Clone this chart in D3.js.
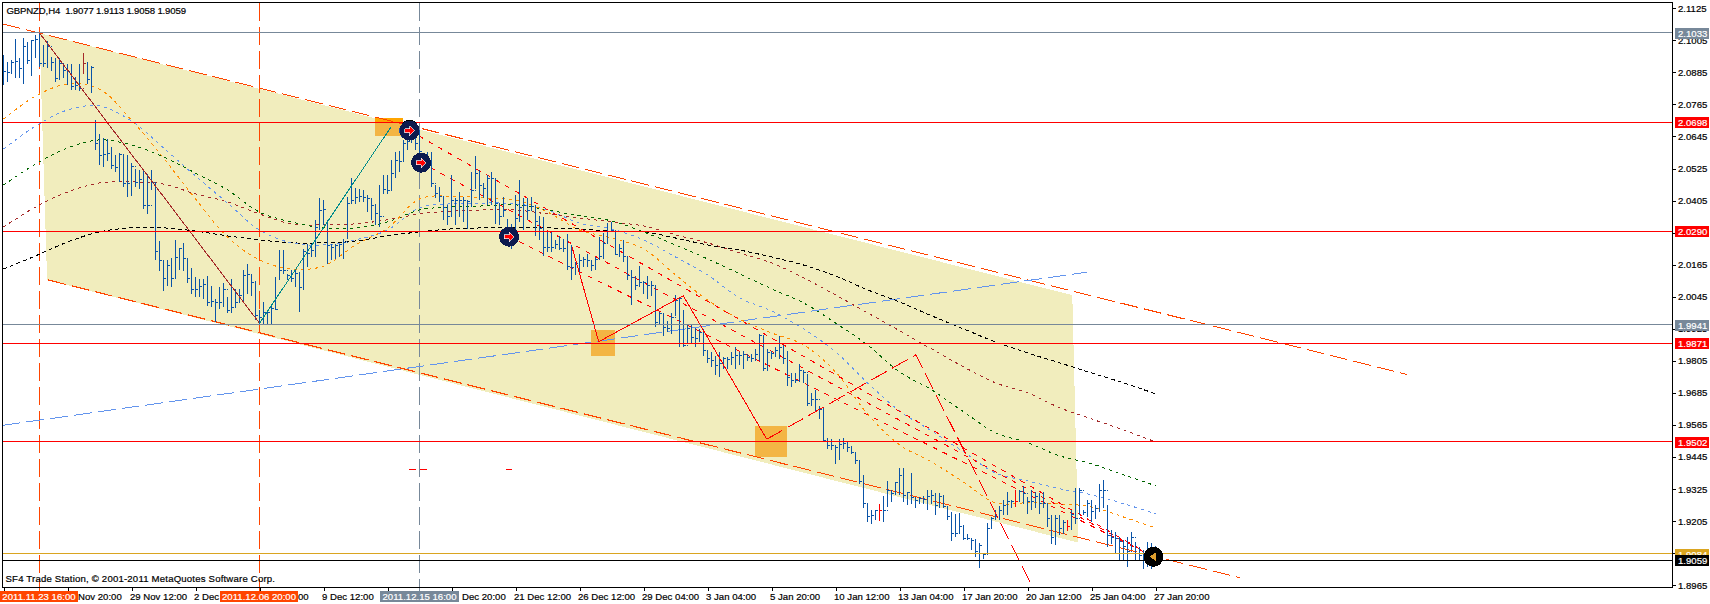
<!DOCTYPE html>
<html><head><meta charset="utf-8">
<style>html,body{margin:0;padding:0;background:#fff;overflow:hidden}svg{display:block}
text{font-family:"Liberation Sans",Arial,sans-serif;font-size:9.6px}</style>
<script src="https://cdn.jsdelivr.net/npm/d3@7"></script></head><body><svg id="c" width="1710" height="604"></svg>
<script>
const symbolTitle = "GBPNZD,H4  1.9077 1.9113 1.9058 1.9059";
const copyright = "SF4 Trade Station, \u00A9 2001-2011 MetaQuotes Software Corp.";
const priceTicks = [2.1125,2.1005,2.0885,2.0765,2.0645,2.0525,2.0405,2.0285,2.0165,2.0045,1.9925,1.9805,1.9685,1.9565,1.9445,1.9325,1.9205,1.9085,1.8965];
const hiddenPriceTicks = [2.0285,1.9085];
const timeTickLabels = ["","Nov 20:00","29 Nov 12:00","2 Dec","00","9 Dec 12:00","","Dec 20:00","21 Dec 12:00","26 Dec 12:00","29 Dec 04:00","3 Jan 04:00","5 Jan 20:00","10 Jan 12:00","13 Jan 04:00","17 Jan 20:00","20 Jan 12:00","25 Jan 04:00","27 Jan 20:00"];
const highs = [
2.0949,2.0924,2.0933,2.1009,2.0937,2.1015,2.0997,2.1005,2.1024,2.1031,2.0987,2.1002,2.0943,2.0937,2.0937,2.0918,2.0915,2.0918,2.0868,2.0918,2.0958,2.0924,2.0908,
2.0705,2.0655,2.0640,2.0637,2.0606,2.0574,2.0583,2.0578,2.0574,2.0545,2.0524,2.0518,2.0518,2.0505,2.0521,2.0474,2.0253,2.0183,2.0183,2.0190,2.0258,2.0228,2.0248,
2.0190,2.0153,2.0120,2.0112,2.0112,2.0124,2.0087,2.0037,2.0081,2.0096,2.0043,2.0112,2.0074,2.0074,2.0146,2.0166,2.0130,2.0105,1.9995,
2.0025,1.9994,2.0019,2.0119,2.0222,2.0222,2.0131,2.0144,2.0144,2.0138,2.0225,2.0244,2.0244,2.0334,2.0413,2.0409,2.0334,2.0241,2.0244,2.0244,2.0263,2.0419,2.0488,
2.0454,2.0450,2.0446,2.0425,2.0416,2.0391,2.0463,2.0500,2.0500,2.0556,2.0588,2.0591,2.0631,2.0681,2.0700,2.0688,2.0669,2.0581,2.0588,2.0588,2.0463,2.0456,2.0419,
2.0388,2.0500,2.0413,2.0438,2.0419,2.0406,2.0513,2.0571,2.0519,2.0469,2.0500,2.0513,2.0488,2.0394,2.0419,2.0338,2.0319,2.0425,2.0481,2.0416,2.0413,
2.0419,2.0388,2.0347,2.0344,2.0288,2.0288,2.0259,2.0272,2.0263,2.0279,2.0238,2.0175,2.0204,2.0194,2.0204,2.0182,2.0194,2.0269,2.0282,2.0322,2.0325,2.0288,2.0244,
2.0259,2.0194,2.0147,2.0122,2.0159,2.0104,2.0122,2.0104,2.0088,1.9988,1.9981,1.9956,1.9985,2.0050,2.0044,1.9994,1.9938,1.9938,1.9928,1.9923,1.9923,1.9844,1.9838,
1.9825,1.9838,1.9819,1.9819,1.9838,1.9856,1.9838,1.9842,1.9829,1.9831,1.9850,1.9906,1.9900,1.9850,1.9844,1.9856,1.9900,1.9863,1.9844,
1.9759,1.9759,1.9794,1.9771,1.9756,1.9686,1.9696,1.9636,1.9634,1.9515,1.9511,1.9490,1.9511,1.9515,1.9503,1.9486,1.9465,1.9436,1.9380,1.9271,1.9246,1.9249,1.9269,
1.9299,1.9357,1.9321,1.9353,1.9406,1.9403,1.9315,1.9386,1.9296,1.9296,1.9299,1.9321,1.9321,1.9311,1.9311,1.9303,1.9259,1.9240,1.9234,1.9236,1.9190,1.9159,1.9144,1.9140,1.9124,
1.9084,1.9199,1.9221,1.9249,1.9261,1.9284,1.9315,1.9286,1.9321,1.9321,1.9336,1.9296,1.9321,1.9315,1.9309,1.9315,1.9271,1.9228,1.9228,1.9228,1.9209,1.9209,1.9246,
1.9328,1.9330,1.9246,1.9284,1.9284,1.9265,1.9346,1.9361,1.9265,1.9171,1.9165,1.9146,1.9134,1.9146,1.9165,1.9128,1.9109,1.9096,1.9128,1.9124,1.9113];
const lows = [
2.0837,2.0849,2.0878,2.0864,2.0862,2.0840,2.0918,2.0870,2.0940,2.0905,2.0905,2.0903,2.0890,2.0849,2.0856,2.0862,2.0837,2.0818,2.0818,2.0814,2.0880,2.0843,2.0806,
2.0593,2.0540,2.0530,2.0555,2.0524,2.0512,2.0474,2.0455,2.0418,2.0424,2.0455,2.0449,2.0374,2.0355,2.0443,2.0184,2.0143,2.0068,2.0087,2.0083,2.0112,2.0145,2.0143,
2.0097,2.0055,2.0043,2.0043,2.0037,2.0012,2.0005,1.9949,1.9999,2.0005,1.9983,1.9983,2.0005,2.0024,2.0030,2.0055,2.0049,1.9958,1.9943,
1.9944,1.9944,1.9941,1.9994,2.0113,2.0131,2.0106,2.0100,2.0081,1.9988,2.0069,2.0156,2.0194,2.0194,2.0294,2.0313,2.0169,2.0184,2.0188,2.0194,2.0188,2.0263,2.0394,
2.0394,2.0400,2.0400,2.0363,2.0331,2.0313,2.0306,2.0431,2.0431,2.0444,2.0488,2.0513,2.0550,2.0594,2.0619,2.0594,2.0563,2.0519,2.0525,2.0456,2.0413,2.0400,2.0331,
2.0313,2.0344,2.0313,2.0344,2.0325,2.0300,2.0381,2.0450,2.0406,2.0413,2.0388,2.0388,2.0319,2.0313,2.0344,2.0275,2.0225,2.0275,2.0325,2.0294,2.0331,
2.0369,2.0272,2.0257,2.0197,2.0213,2.0213,2.0225,2.0219,2.0213,2.0147,2.0107,2.0125,2.0132,2.0156,2.0156,2.0142,2.0144,2.0182,2.0188,2.0244,2.0288,2.0200,2.0194,
2.0175,2.0107,2.0013,2.0069,2.0081,2.0056,2.0038,2.0047,1.9931,1.9944,1.9900,1.9913,1.9904,1.9972,1.9856,1.9856,1.9869,1.9872,1.9856,1.9875,1.9825,1.9798,1.9781,
1.9754,1.9744,1.9775,1.9775,1.9788,1.9775,1.9788,1.9775,1.9806,1.9800,1.9804,1.9806,1.9769,1.9769,1.9813,1.9819,1.9813,1.9794,1.9713,
1.9706,1.9722,1.9728,1.9724,1.9636,1.9636,1.9615,1.9586,1.9503,1.9474,1.9472,1.9419,1.9434,1.9474,1.9465,1.9457,1.9421,1.9346,1.9253,1.9203,1.9196,1.9209,1.9206,
1.9203,1.9259,1.9278,1.9303,1.9303,1.9278,1.9265,1.9271,1.9253,1.9271,1.9271,1.9249,1.9269,1.9228,1.9253,1.9253,1.9209,1.9131,1.9146,1.9156,1.9134,1.9134,1.9096,1.9071,1.9031,
1.9065,1.9084,1.9178,1.9209,1.9209,1.9228,1.9228,1.9253,1.9259,1.9278,1.9271,1.9231,1.9246,1.9253,1.9234,1.9253,1.9184,1.9121,1.9115,1.9153,1.9159,1.9169,1.9171,
1.9196,1.9228,1.9228,1.9221,1.9203,1.9215,1.9240,1.9253,1.9109,1.9121,1.9084,1.9059,1.9059,1.9034,1.9096,1.9059,1.9059,1.9028,1.9034,1.9028,1.9058];
const closes = [
2.0887,2.0883,2.0922,2.0924,2.0899,2.0980,2.0928,2.1003,2.1008,2.0918,2.0918,2.0983,2.0922,2.0862,2.0918,2.0893,2.0887,2.0831,2.0837,2.0824,2.0918,2.0858,2.0903,
2.0618,2.0574,2.0578,2.0583,2.0537,2.0530,2.0578,2.0468,2.0468,2.0533,2.0474,2.0483,2.0387,2.0387,2.0471,2.0215,2.0180,2.0112,2.0162,2.0115,2.0193,2.0224,2.0187,
2.0115,2.0074,2.0074,2.0083,2.0090,2.0024,2.0028,2.0024,2.0024,2.0074,1.9995,2.0005,2.0024,2.0049,2.0124,2.0130,2.0099,1.9974,1.9968,
1.9988,1.9988,2.0000,1.9997,2.0144,2.0144,2.0125,2.0113,2.0131,2.0081,2.0213,2.0206,2.0219,2.0306,2.0369,2.0371,2.0238,2.0231,2.0238,2.0239,2.0250,2.0394,2.0406,
2.0416,2.0419,2.0416,2.0413,2.0388,2.0356,2.0344,2.0446,2.0444,2.0506,2.0556,2.0550,2.0619,2.0625,2.0656,2.0619,2.0588,2.0531,2.0556,2.0469,2.0431,2.0422,2.0381,
2.0346,2.0406,2.0404,2.0406,2.0406,2.0400,2.0444,2.0506,2.0463,2.0450,2.0488,2.0488,2.0394,2.0344,2.0369,2.0294,2.0269,2.0338,2.0381,2.0388,2.0369,
2.0382,2.0325,2.0300,2.0231,2.0231,2.0231,2.0241,2.0225,2.0225,2.0159,2.0156,2.0169,2.0181,2.0184,2.0179,2.0163,2.0184,2.0194,2.0244,2.0288,2.0294,2.0204,2.0225,
2.0194,2.0125,2.0119,2.0088,2.0100,2.0100,2.0088,2.0088,1.9950,1.9981,1.9931,1.9925,1.9969,2.0031,2.0038,1.9863,1.9925,1.9894,1.9888,1.9913,1.9844,1.9813,1.9806,
1.9788,1.9794,1.9813,1.9809,1.9819,1.9825,1.9825,1.9829,1.9816,1.9813,1.9829,1.9900,1.9775,1.9838,1.9831,1.9844,1.9856,1.9813,1.9744,
1.9731,1.9731,1.9771,1.9761,1.9646,1.9661,1.9661,1.9624,1.9509,1.9490,1.9490,1.9481,1.9494,1.9497,1.9481,1.9462,1.9434,1.9353,1.9271,1.9221,1.9228,1.9246,1.9244,
1.9244,1.9319,1.9309,1.9349,1.9378,1.9303,1.9311,1.9294,1.9284,1.9290,1.9286,1.9296,1.9303,1.9265,1.9296,1.9261,1.9224,1.9159,1.9161,1.9184,1.9140,1.9140,1.9134,1.9090,1.9115,
1.9081,1.9178,1.9215,1.9224,1.9244,1.9265,1.9278,1.9278,1.9280,1.9315,1.9309,1.9278,1.9278,1.9299,1.9271,1.9271,1.9215,1.9144,1.9215,1.9178,1.9199,1.9184,1.9231,
1.9215,1.9321,1.9236,1.9271,1.9240,1.9253,1.9321,1.9321,1.9153,1.9146,1.9140,1.9128,1.9109,1.9090,1.9146,1.9084,1.9078,1.9078,1.9053,1.9084,1.9059];
const opens = [
2.0900,2.0887,2.0883,2.0922,2.0924,2.0899,2.0980,2.0928,2.1003,2.1008,2.0918,2.0918,2.0983,2.0922,2.0862,2.0918,2.0893,2.0887,2.0831,2.0837,2.0824,2.0918,2.0858,
2.0690,2.0618,2.0574,2.0578,2.0583,2.0537,2.0530,2.0578,2.0468,2.0468,2.0533,2.0474,2.0483,2.0387,2.0387,2.0471,2.0215,2.0180,2.0112,2.0162,2.0115,2.0193,2.0224,
2.0187,2.0115,2.0074,2.0074,2.0083,2.0090,2.0024,2.0028,2.0024,2.0024,2.0074,1.9995,2.0005,2.0024,2.0049,2.0124,2.0130,2.0099,1.9974,
1.9968,1.9988,1.9988,2.0000,2.0110,2.0144,2.0144,2.0125,2.0113,2.0131,2.0081,2.0213,2.0206,2.0219,2.0306,2.0369,2.0325,2.0238,2.0231,2.0238,2.0239,2.0250,2.0394,
2.0406,2.0416,2.0419,2.0416,2.0413,2.0388,2.0356,2.0344,2.0446,2.0444,2.0506,2.0556,2.0550,2.0619,2.0625,2.0656,2.0619,2.0565,2.0531,2.0556,2.0469,2.0431,2.0422,
2.0381,2.0346,2.0406,2.0404,2.0406,2.0406,2.0400,2.0444,2.0506,2.0463,2.0450,2.0488,2.0488,2.0394,2.0344,2.0312,2.0294,2.0269,2.0338,2.0381,2.0388,
2.0369,2.0382,2.0325,2.0300,2.0231,2.0231,2.0231,2.0241,2.0225,2.0225,2.0159,2.0156,2.0169,2.0181,2.0184,2.0179,2.0163,2.0184,2.0194,2.0244,2.0288,2.0294,2.0204,
2.0225,2.0194,2.0125,2.0119,2.0088,2.0100,2.0100,2.0088,2.0088,1.9950,1.9981,1.9931,1.9925,1.9969,2.0031,1.9990,1.9863,1.9925,1.9894,1.9888,1.9913,1.9844,1.9813,
1.9806,1.9788,1.9794,1.9813,1.9809,1.9819,1.9825,1.9825,1.9829,1.9816,1.9813,1.9829,1.9900,1.9775,1.9838,1.9831,1.9844,1.9856,1.9813,
1.9744,1.9731,1.9731,1.9771,1.9761,1.9646,1.9661,1.9661,1.9624,1.9509,1.9490,1.9490,1.9481,1.9494,1.9497,1.9481,1.9462,1.9434,1.9353,1.9271,1.9221,1.9228,1.9246,
1.9244,1.9244,1.9319,1.9309,1.9349,1.9378,1.9303,1.9311,1.9294,1.9284,1.9290,1.9286,1.9296,1.9303,1.9265,1.9296,1.9261,1.9224,1.9159,1.9161,1.9184,1.9140,1.9140,1.9134,1.9090,
1.9070,1.9081,1.9178,1.9215,1.9224,1.9244,1.9265,1.9278,1.9278,1.9280,1.9315,1.9309,1.9278,1.9278,1.9299,1.9271,1.9271,1.9215,1.9144,1.9215,1.9178,1.9199,1.9184,
1.9231,1.9215,1.9321,1.9236,1.9271,1.9240,1.9253,1.9321,1.9321,1.9153,1.9146,1.9140,1.9128,1.9109,1.9090,1.9146,1.9084,1.9078,1.9078,1.9053,1.9077];
const redBars = [219,253,266], brownBars = [20];
// moving averages, sampled every 8 bars
const maStep = 8;
const maOrange = [2.0710,2.0796,2.0841,2.0822,2.0706,2.0564,2.0411,2.0269,2.0183,2.0149,2.0160,2.0239,2.0302,2.0411,2.0422,2.0415,2.0407,2.0362,2.0295,2.0265,2.0224,2.0127,2.0033,1.9962,1.9910,1.9865,1.9764,1.9607,1.9491,1.9427,1.9352,1.9274,1.9274,1.9270,1.9259,1.9221,1.9180];
const maBlue = [2.0598,2.0684,2.0744,2.0759,2.0703,2.0602,2.0497,2.0396,2.0295,2.0247,2.0239,2.0258,2.0295,2.0378,2.0393,2.0396,2.0393,2.0370,2.0321,2.0299,2.0258,2.0194,2.0127,2.0041,1.9992,1.9925,1.9839,1.9723,1.9618,1.9543,1.9465,1.9386,1.9356,1.9327,1.9304,1.9271,1.9233];
const maGreen = [2.0463,2.0542,2.0602,2.0632,2.0613,2.0568,2.0508,2.0445,2.0362,2.0325,2.0303,2.0303,2.0325,2.0370,2.0381,2.0385,2.0389,2.0370,2.0348,2.0329,2.0288,2.0239,2.0187,2.0131,2.0075,2.0022,1.9947,1.9865,1.9764,1.9697,1.9615,1.9536,1.9499,1.9450,1.9420,1.9379,1.9338];
const maBrown = [2.0306,2.0381,2.0437,2.0471,2.0475,2.0467,2.0430,2.0400,2.0355,2.0318,2.0314,2.0318,2.0333,2.0355,2.0366,2.0370,2.0370,2.0355,2.0340,2.0325,2.0310,2.0277,2.0247,2.0209,2.0172,2.0116,2.0052,1.9985,1.9918,1.9850,1.9783,1.9723,1.9686,1.9630,1.9588,1.9547,1.9502];
const maBlack = [2.0149,2.0198,2.0250,2.0288,2.0303,2.0303,2.0291,2.0273,2.0258,2.0247,2.0247,2.0254,2.0273,2.0288,2.0299,2.0303,2.0306,2.0303,2.0299,2.0291,2.0288,2.0265,2.0239,2.0220,2.0194,2.0164,2.0123,2.0071,2.0026,1.9974,1.9925,1.9876,1.9835,1.9798,1.9760,1.9723,1.9682];
// objects: [bar, price]
const channelFill = [[9,2.1032],[267.2,2.0051],[268.7,1.9125],[10.9,2.0108]];
const channelUpper = [[-0.2,2.1066],[350.9,1.9754]];
const channelLower = [[11.2,2.0108],[309.2,1.8993]];
const blueTrend = [[-0.2,1.9564],[270.8,2.0137]];
const brownLeg = [[9,2.1032],[64,1.9946]];
const tealLeg = [[64,1.9946],[96.8,2.0679]];
const redSolid = [[142.1,2.0233],[148.8,1.9877],[169.95,2.0049],[190.8,1.9512]];
const redDashed = [[190.8,1.9512],[228.1,1.9828],[257.3,1.8959]];
const fanEnd = [287.5,1.9072];
const fanStarts = [[101.5,2.0667],[104.4,2.0547],[126.4,2.0270]];
const boxes = [[92.9,99.85,2.0714,2.0648],[146.9,152.9,1.9921,1.9825],[187.9,195.85,1.9562,1.9447]];
const boxCap = [92.9,99.85,2.0714,2.0699];
const targetMarks = [[101.5,2.0667],[104.4,2.0547],[126.4,2.0270]];
const lastMark = [287.5,1.9072];
const stopTicks = [[101.3,103,1.94],[104.2,105.9,1.94],[125.7,127.2,1.94]];
const redLevels = [2.0698,2.0290,1.9871,1.9502];
const grayLevels = [2.1033,1.9941];
const goldLevel = 1.9084, bidLevel = 1.9059;
const verticals = [{bar:9,label:"2011.11.23 16:00",color:"#ff4500"},{bar:64,label:"2011.12.06 20:00",color:"#ff4500"},{bar:104,label:"2011.12.15 16:00",color:"#778899"}];

const svg = d3.select('#c');
const x = d3.scaleLinear().domain([0,288]).range([3.5,1155.5]);
const y = d3.scaleLinear().domain([2.1125,1.8965]).range([8.2,585.4]);
const L = 2.5, R = 1672.5, T = 2.5, B = 587.5;
const root = svg.append('g').attr('shape-rendering','crispEdges');
const pt = d3.line().x(d=>x(d[0])).y(d=>y(d[1]));
function seg(data,color,dash,w){ return root.append('path').attr('d',pt(data)).attr('fill','none').attr('stroke',color).attr('stroke-width',w||1).attr('stroke-dasharray',dash||null); }

// chart fill and boxes
root.append('path').attr('d',pt(channelFill)+'Z').attr('fill','#f1edbd');
root.selectAll('rect.b').data(boxes).join('rect').attr('class','b').attr('x',d=>x(d[0])).attr('width',d=>x(d[1])-x(d[0])).attr('y',d=>y(d[2])).attr('height',d=>y(d[3])-y(d[2])).attr('fill','#f3b544');
root.append('rect').attr('x',x(boxCap[0])).attr('width',x(boxCap[1])-x(boxCap[0])).attr('y',y(boxCap[2])).attr('height',y(boxCap[3])-y(boxCap[2])).attr('fill','#ffa500');

// verticals
verticals.forEach(v=>root.append('line').attr('x1',x(v.bar)).attr('x2',x(v.bar)).attr('y1',T).attr('y2',B+3).attr('stroke',v.color).attr('stroke-dasharray','18,6'));

// trend lines
seg(channelUpper,'#ff4500','18,6');
seg(channelLower,'#ff4500','18,6');
seg(blueTrend,'#6495ed','18,6');

// moving averages
const ma = d3.line().x((d,i)=>x(i*maStep)).y(d=>y(d)).curve(d3.curveCatmullRom);
[[maBlack,'#000000','4,3'],[maBrown,'#a52a2a','3,4'],[maGreen,'#006400','3,4'],[maBlue,'#6495ed','3,4'],[maOrange,'#ff8c00','3,4']].forEach(([a,c,ds])=>
  root.append('path').attr('d',ma(a)).attr('fill','none').attr('stroke',c).attr('stroke-dasharray',ds));

// fan
fanStarts.forEach(s=>seg([s,fanEnd],'#ff0000','5,6'));

// bars
const color = i => redBars.includes(i)?'#ff0000':brownBars.includes(i)?'#a52a2a':'#0a54a8';
const bars = root.append('g').selectAll('g').data(highs.map((h,i)=>({i,h,l:lows[i],o:opens[i],c:closes[i]}))).join('g').attr('stroke',d=>color(d.i));
bars.append('line').attr('x1',d=>x(d.i)).attr('x2',d=>x(d.i)).attr('y1',d=>y(d.h)).attr('y2',d=>y(d.l));
bars.append('line').attr('x1',d=>x(d.i)-1).attr('x2',d=>x(d.i)).attr('y1',d=>y(d.o)).attr('y2',d=>y(d.o));
bars.append('line').attr('x1',d=>x(d.i)).attr('x2',d=>x(d.i)+2).attr('y1',d=>y(d.c)).attr('y2',d=>y(d.c));

// legs
seg(brownLeg,'#a52a2a');
seg(tealLeg,'#008b8b');
seg(redSolid,'#ff0000');
seg(redDashed,'#ff0000','18,6');

// horizontal levels
const hl = (v,c)=>root.append('line').attr('x1',L).attr('x2',R).attr('y1',y(v)).attr('y2',y(v)).attr('stroke',c);
grayLevels.forEach(v=>hl(v,'#778899'));
redLevels.forEach(v=>hl(v,'#ff0000'));
hl(goldLevel,'#daa520'); hl(bidLevel,'#000000');

// stop ticks
stopTicks.forEach(s=>root.append('line').attr('x1',x(s[0])).attr('x2',x(s[1])).attr('y1',y(s[2])).attr('y2',y(s[2])).attr('stroke','#ff0000'));

// target markers
const arrowR = 'M-5,-2L0,-2L0,-5L5,0L0,5L0,2L-5,2Z';
root.append('circle').attr('cx',x(targetMarks[0][0])-2).attr('cy',y(targetMarks[0][1])).attr('r',8.5).attr('fill','#1a4fb0');
root.append('circle').attr('cx',x(targetMarks[0][0])).attr('cy',y(targetMarks[0][1])-2).attr('r',9).attr('fill','#000');
targetMarks.forEach(m=>{
  root.append('circle').attr('cx',x(m[0])).attr('cy',y(m[1])).attr('r',10).attr('fill','#0c1a4e');
  root.append('path').attr('d',arrowR).attr('transform',`translate(${x(m[0])},${y(m[1])})`).attr('fill','#ff0000').attr('stroke','#fff').attr('stroke-width',0.7);
});
root.append('circle').attr('cx',x(lastMark[0])).attr('cy',y(lastMark[1])).attr('r',10).attr('fill','#000');
root.append('path').attr('d','M-4,0L2,-4L2,4Z').attr('transform',`translate(${x(lastMark[0])},${y(lastMark[1])})`).attr('fill','#e0a030');

// frame
root.append('rect').attr('x',L).attr('y',T).attr('width',R-L).attr('height',B-T).attr('fill','none').attr('stroke','#000');

// axes
const ay = d3.axisRight(y).tickValues(priceTicks).tickSize(3).tickFormat('');
root.append('g').attr('transform',`translate(${R},0)`).call(ay).call(g=>g.select('.domain').remove());
const ax = d3.axisBottom(x).tickValues(timeTickLabels.map((d,i)=>i*16)).tickSize(3).tickFormat('');
root.append('g').attr('transform',`translate(0,${B})`).call(ax).call(g=>g.select('.domain').remove());

const txt = svg.append('g');
priceTicks.filter(v=>!hiddenPriceTicks.includes(v)).forEach(v=>txt.append('text').attr('x',1678).attr('y',y(v)).attr('dy','0.35em').text(v.toFixed(4)));
const shift = {1:12,4:40,7:12};
timeTickLabels.forEach((s,k)=>{ if(s) txt.append('text').attr('x',x(k*16)-1.5+(shift[k]||0)).attr('y',596.5).attr('dy','0.35em').text(s); });

// price label boxes
function tag(v,c){ const yy=Math.round(y(v));
  txt.append('rect').attr('x',1675).attr('y',yy-5).attr('width',34).attr('height',11).attr('fill',c).attr('shape-rendering','crispEdges');
  txt.append('text').attr('x',1678).attr('y',yy+0.5).attr('dy','0.35em').attr('fill','#fff').text(v.toFixed(4)); }
grayLevels.forEach(v=>tag(v,'#778899')); redLevels.forEach(v=>tag(v,'#ff0000')); tag(goldLevel,'#daa520'); tag(bidLevel,'#000000');

// time label boxes
const boxW = {0:78,1:78,2:79};
verticals.forEach((v,k)=>{ const x0=[0,220,380][k];
  txt.append('rect').attr('x',x0).attr('y',591).attr('width',boxW[k]).attr('height',11).attr('fill',v.color).attr('shape-rendering','crispEdges');
  txt.append('text').attr('x',x0+boxW[k]/2).attr('y',596.5).attr('dy','0.35em').attr('text-anchor','middle').attr('fill','#fff').text(v.label); });

txt.append('text').attr('x',6.5).attr('y',11).attr('dy','0.35em').style('white-space','pre').attr('textLength',179.5).attr('lengthAdjust','spacing').text(symbolTitle);
txt.append('text').attr('x',5.5).attr('y',578.5).attr('dy','0.35em').attr('textLength',269.5).attr('lengthAdjust','spacing').text(copyright);
txt.selectAll('text').attr('stroke',function(){return this.getAttribute('fill')||'#000';}).attr('stroke-width',0.2);
</script></body></html>
